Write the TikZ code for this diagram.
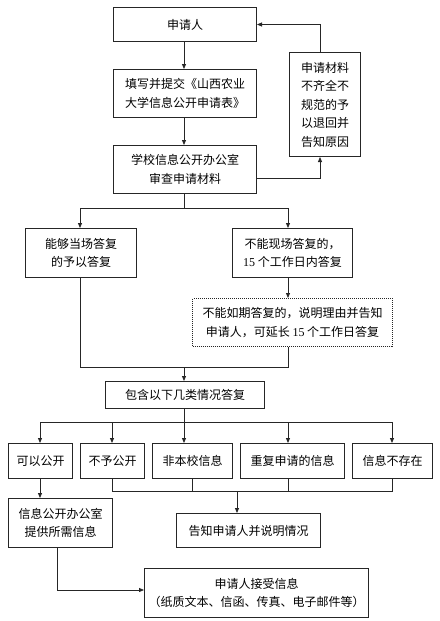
\documentclass[tikz,border=0pt]{standalone}
\usepackage{fontspec}
\setmainfont{Liberation Serif}
\newfontfamily\cjk{Noto Sans CJK SC}
\usetikzlibrary{arrows.meta}
\begin{document}
\begin{tikzpicture}[x=1pt,y=-1pt,
  every node/.style={font=\cjk\fontsize{12}{18.5}\selectfont},
  box/.style={draw=black!85, line width=1pt, inner sep=0pt, anchor=north west, align=center},
  link/.style={draw=black!85, line width=0.8pt},
  arr/.style={link, -{Triangle[length=5pt,width=4pt]}}]
\useasboundingbox (0,0) rectangle (439,621);
% columns / rows used by connectors
\coordinate (x40) at (40,0);
\coordinate (x57) at (57,0);
\coordinate (x80) at (80,0);
\coordinate (x112) at (112,0);
\coordinate (x184) at (184,0);
\coordinate (x192) at (192,0);
\coordinate (x237) at (237,0);
\coordinate (x288) at (288,0);
\coordinate (x320) at (320,0);
\coordinate (x392) at (392,0);
\coordinate (y25) at (0,25);
\coordinate (y178) at (0,178);
\coordinate (y208) at (0,208);
\coordinate (y367) at (0,367);
\coordinate (y422) at (0,422);
\coordinate (y491) at (0,491);
\coordinate (y590) at (0,590);

\node[box, minimum width=143pt, minimum height=34pt] (app) at (113,7) {申请人};
\node[box, minimum width=143pt, minimum height=48pt] (form) at (113,69) {填写并提交《山西农业\\大学信息公开申请表》};
\node[box, minimum width=143pt, minimum height=48pt] (office) at (113,145) {学校信息公开办公室\\审查申请材料};
\node[box, minimum width=71pt, minimum height=104pt] (reject) at (289,52) {申请材料\\不齐全不\\规范的予\\以退回并\\告知原因};
\node[box, minimum width=111pt, minimum height=49pt] (can) at (25,228) {能够当场答复\\的予以答复};
\node[box, minimum width=120pt, minimum height=49pt] (cannot) at (232,228) {不能现场答复的，\\{\rmfamily 15} 个工作日内答复};
\node[box, densely dotted, minimum width=200pt, minimum height=48pt] (ext) at (192,298) {不能如期答复的，说明理由并告知\\申请人，可延长 {\rmfamily 15} 个工作日答复};
\node[box, minimum width=159pt, minimum height=27pt] (incl) at (105,381) {包含以下几类情况答复};
\node[box, minimum width=64pt, minimum height=35pt] (b1) at (8,443) {可以公开};
\node[box, minimum width=64pt, minimum height=35pt] (b2) at (80,443) {不予公开};
\node[box, minimum width=80pt, minimum height=35pt] (b3) at (152,443) {非本校信息};
\node[box, minimum width=104pt, minimum height=35pt] (b4) at (240,443) {重复申请的信息};
\node[box, minimum width=80pt, minimum height=35pt] (b5) at (352,443) {信息不存在};
\node[box, minimum width=104pt, minimum height=49pt] (provide) at (8,498) {信息公开办公室\\提供所需信息};
\node[box, minimum width=144pt, minimum height=34pt] (tell) at (176,513) {告知申请人并说明情况};
\node[box, minimum width=224pt, minimum height=49pt] (recv) at (144,568) {申请人接受信息\\（纸质文本、信函、传真、电子邮件等）};

% top chain
\draw[arr] (app.south -| x184) -- (form.north -| x184);
\draw[arr] (form.south -| x184) -- (office.north -| x184);
\draw[arr] (office.east |- y178) -| (reject.south -| x320);
\draw[arr] (reject.north -| x320) |- (app.east);

% branch
\draw[link] (office.south -| x184) -- (x184 |- y208);
\draw[arr] (x80 |- y208) -- (can.north -| x80);
\draw[arr] (x80 |- y208) -- (x288 |- y208) -- (cannot.north -| x288);
\draw[arr] (cannot.south -| x288) -- (ext.north -| x288);

% merge
\draw[link] (can.south -| x80) -- (x80 |- y367) -- (x288 |- y367) -- (ext.south -| x288);
\draw[arr] (x184 |- y367) -- (incl.north -| x184);

% five cases
\draw[link] (incl.south -| x184) -- (x184 |- y422);
\draw[link] (x40 |- y422) -- (x392 |- y422);
\draw[arr] (x40 |- y422) -- (b1.north -| x40);
\draw[arr] (x112 |- y422) -- (b2.north -| x112);
\draw[arr] (x184 |- y422) -- (b3.north -| x184);
\draw[arr] (x288 |- y422) -- (b4.north -| x288);
\draw[arr] (x392 |- y422) -- (b5.north -| x392);

% collect
\draw[link] (b2.south -| x112) -- (x112 |- y491) -- (x392 |- y491) -- (b5.south -| x392);
\draw[link] (b3.south -| x192) -- (x192 |- y491);
\draw[link] (b4.south -| x288) -- (x288 |- y491);
\draw[arr] (x237 |- y491) -- (tell.north -| x237);

% open path
\draw[arr] (b1.south -| x40) -- (provide.north -| x40);
\draw[arr] (provide.south -| x57) |- (recv.west |- y590);
\end{tikzpicture}
\end{document}
